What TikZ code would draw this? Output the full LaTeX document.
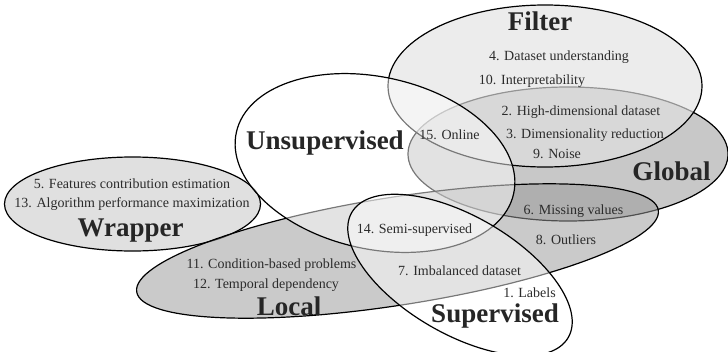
\documentclass[tikz,border=0pt]{standalone}
\usepackage{fontspec}
\setmainfont{Liberation Serif}
\definecolor{txt}{gray}{0.17}
\definecolor{ttl}{gray}{0.15}
\definecolor{filterfill}{gray}{0.886}
\definecolor{wrapfill}{gray}{0.88}
\definecolor{localfill}{gray}{0.6}
\begin{document}
\begin{tikzpicture}[x=1pt,y=-1pt,
  setline/.style={draw=black, line width=1.2pt},
  item/.style={anchor=base, inner sep=0pt, text=txt, font=\fontsize{14}{16}\selectfont},
  title/.style={anchor=base, inner sep=0pt, text=ttl, font=\fontsize{27}{30}\selectfont\bfseries}]
\useasboundingbox (0,0) rectangle (728,351);
% Global
\path[setline, fill=black, fill opacity=0.216] (568,154) ellipse [x radius=160pt, y radius=67pt];
% Filter
\path[setline, fill=filterfill, fill opacity=0.655] (545,86) ellipse [x radius=157pt, y radius=81pt];
% Wrapper
\path[setline, fill=wrapfill] (132.5,204) ellipse [x radius=128pt, y radius=47pt];
% Local
\path[setline, fill=localfill, fill opacity=0.52, rotate around={8.9:(397.5,251)}] (397.5,251) ellipse [x radius=264pt, y radius=54pt];
% Unsupervised
\path[setline, fill=white, fill opacity=0.47, rotate around={-12.5:(375,163)}] (375,163) ellipse [x radius=142pt, y radius=86pt];
% Supervised
\path[setline, fill=white, fill opacity=0.47, rotate around={-30:(460,275)}] (460,275) ellipse [x radius=125pt, y radius=59pt];

% titles
\node[title] (tfilter) at (540,30) {Filter};
\node[title] (tglobal) at (671.5,180) {Global};
\node[title] (tunsup) at (325,149) {Unsupervised};
\node[title] (twrapper) at (130.5,236) {Wrapper};
\node[title] (tlocal) at (289,315) {Local};
\node[title] (tsup) at (495,322) {Supervised};

% items
\node[item] (i4) at (559,60) {4. Dataset understanding};
\node[item] (i10) at (532,84) {10. Interpretability};
\node[item] (i2) at (581,115) {2. High-dimensional dataset};
\node[item] (i3) at (585,138) {3. Dimensionality reduction};
\node[item] (i9) at (557,158) {9. Noise};
\node[item] (i15) at (449.5,139) {15. Online};
\node[item] (i5) at (132,188) {5. Features contribution estimation};
\node[item] (i13) at (132,207) {13. Algorithm performance maximization};
\node[item] (i14) at (414.5,233) {14. Semi-supervised};
\node[item] (i6) at (573.5,214) {6. Missing values};
\node[item] (i8) at (566,244) {8. Outliers};
\node[item] (i11) at (271.5,268) {11. Condition-based problems};
\node[item] (i12) at (266,288) {12. Temporal dependency};
\node[item] (i7) at (459.5,275) {7. Imbalanced dataset};
\node[item] (i1) at (529.5,297) {1. Labels};
\end{tikzpicture}
\end{document}
